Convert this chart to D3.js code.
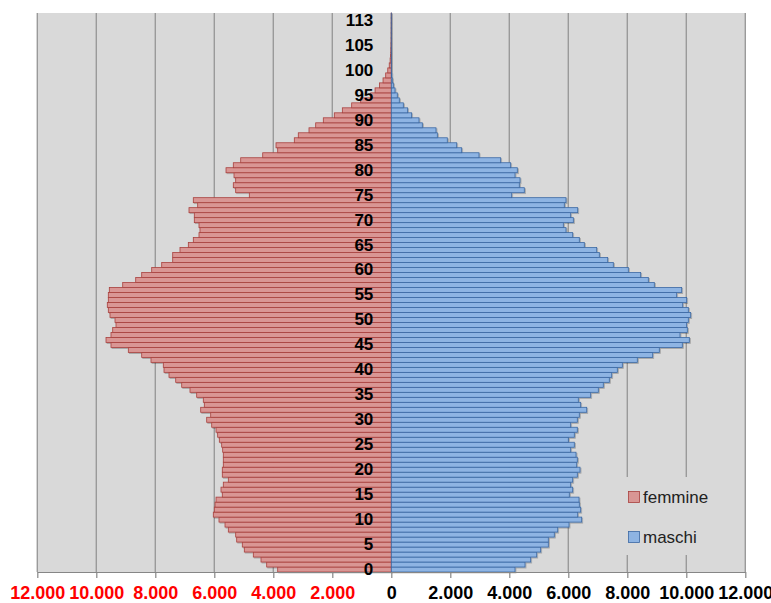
<!DOCTYPE html>
<html>
<head>
<meta charset="utf-8">
<script src="https://cdn.jsdelivr.net/npm/d3@7"></script>
<style>
  body { margin: 0; background: #fff; }
  svg { display: block; }
</style>
</head>
<body>
<div id="chart"></div>
<script>
// Piramide per età - femmine / maschi

const ages = ["0","1","2","3","4","5","6","7","8","9",
  "10","11","12","13","14","15","16","17","18","19",
  "20","21","22","23","24","25","26","27","28","29",
  "30","31","32","33","34","35","36","37","38","39",
  "40","41","42","43","44","45","46","47","48","49",
  "50","51","52","53","54","55","56","57","58","59",
  "60","61","62","63","64","65","66","67","68","69",
  "70","71","72","73","74","75","76","77","78","79",
  "80","81","82","83","84","85","86","87","88","89",
  "90","91","92","93","94","95","96","97","98","99",
  "100","101","102","103","104","105","106","107","108","109","113","115"];

const femmine = [3851,4224,4417,4678,4983,5051,5241,5275,5525,5637,
  5841,6034,6000,5976,5942,5729,5773,5695,5525,5729,
  5729,5695,5695,5695,5716,5750,5830,5886,5942,6088,
  6258,6122,6461,6339,6373,6597,6824,7105,7308,7536,
  7705,7729,8146,8461,8915,9502,9671,9502,9444,9332,
  9366,9536,9593,9627,9593,9593,9559,9105,8664,8461,
  8122,7783,7410,7410,7163,6881,6712,6519,6485,6519,
  6678,6678,6858,6563,6712,4813,5275,5356,5275,5332,
  5603,5356,5105,4359,3851,3908,3288,3153,2790,2563,
  2305,1932,1660,1343,1038,700,550,400,280,190,
  120,70,40,25,15,10,6,4,3,2,1,1];

const maschi = [4193,4532,4725,4929,5064,5322,5322,5525,5641,6024,
  6454,6319,6420,6373,6363,6034,6149,6081,6149,6305,
  6397,6285,6305,6261,6081,6203,6000,6203,6305,6081,
  6305,6373,6624,6420,6339,6759,7017,7186,7390,7471,
  7661,7831,8339,8861,9085,9864,10102,9786,10034,10013,
  10068,10149,10068,9878,10013,9674,9844,8915,8712,8454,
  8034,7525,7336,7051,6963,6542,6373,6149,5922,5831,
  6170,6081,6319,5864,5922,4081,4508,4339,4363,4193,
  4271,4047,3708,2973,2386,2217,1898,1560,1515,1051,
  939,690,554,407,271,203,125,68,34,17,
  10,6,4,3,2,1,1,1,1,1,1,1];

const xTicks = [-12000,-10000,-8000,-6000,-4000,-2000,0,2000,4000,6000,8000,10000,12000];
const legendLabels = ["femmine", "maschi"];

const W = 771, H = 603;
const plot = { left: 37.3, right: 745.3, top: 13, bottom: 572 };

const colors = {
  femmine: { fill: "#d99694", stroke: "#a8403d" },
  maschi:  { fill: "#8eb4e3", stroke: "#3b68a3" }
};

const svg = d3.select("#chart").append("svg")
  .attr("width", W)
  .attr("height", H);

// soft shadow like the spreadsheet bars
const defs = svg.append("defs");
const shadow = defs.append("filter").attr("id", "shadow")
  .attr("x", "-5%").attr("y", "-50%").attr("width", "120%").attr("height", "200%");
shadow.append("feDropShadow")
  .attr("dx", 1).attr("dy", 1).attr("stdDeviation", 0.6)
  .attr("flood-color", "#000").attr("flood-opacity", 0.25);

const x = d3.scaleLinear()
  .domain([-12000, 12000])
  .range([plot.left, plot.right]);

const y = d3.scaleBand()
  .domain(ages)
  .range([plot.bottom, plot.top])
  .padding(0);

// plot background
svg.append("rect")
  .attr("x", plot.left)
  .attr("y", plot.top)
  .attr("width", plot.right - plot.left)
  .attr("height", plot.bottom - plot.top)
  .attr("fill", "#d9d9d9");

// vertical gridlines
svg.append("g")
  .selectAll("line")
  .data(xTicks)
  .join("line")
  .attr("x1", d => x(d))
  .attr("x2", d => x(d))
  .attr("y1", plot.top)
  .attr("y2", plot.bottom)
  .attr("stroke", "#9a9a9a")
  .attr("stroke-width", 1.4);

// legend box hides the gridlines behind it
svg.append("rect")
  .attr("x", 620)
  .attr("y", 477)
  .attr("width", 116)
  .attr("height", 78)
  .attr("fill", "#d9d9d9");

const bars = svg.append("g").attr("filter", "url(#shadow)");

bars.selectAll(".f")
  .data(femmine)
  .join("rect")
  .attr("class", "f")
  .attr("x", d => x(-d))
  .attr("y", (d, i) => y(ages[i]))
  .attr("width", d => x(0) - x(-d))
  .attr("height", y.bandwidth())
  .attr("fill", colors.femmine.fill)
  .attr("stroke", colors.femmine.stroke)
  .attr("stroke-width", 0.8);

bars.selectAll(".m")
  .data(maschi)
  .join("rect")
  .attr("class", "m")
  .attr("x", x(0))
  .attr("y", (d, i) => y(ages[i]))
  .attr("width", d => x(d) - x(0))
  .attr("height", y.bandwidth())
  .attr("fill", colors.maschi.fill)
  .attr("stroke", colors.maschi.stroke)
  .attr("stroke-width", 0.8);

// bottom axis
const it = d3.formatLocale({ decimal: ",", thousands: ".", grouping: [3], currency: ["", "€"] });
const fmt = it.format(",");

const xAxis = svg.append("g")
  .attr("transform", `translate(0,${plot.bottom})`)
  .call(d3.axisBottom(x)
    .tickValues(xTicks)
    .tickSize(6)
    .tickSizeOuter(0)
    .tickPadding(8)
    .tickFormat(d => fmt(Math.abs(d))));

xAxis.select(".domain").attr("stroke", "#868686").attr("stroke-width", 1.2);
xAxis.selectAll(".tick line").attr("stroke", "#868686").attr("stroke-width", 1.2);
xAxis.selectAll(".tick text")
  .style("font-family", "'Liberation Sans Narrow', 'Liberation Sans', Arial, sans-serif")
  .style("font-size", "18px")
  .style("font-weight", "bold")
  .attr("fill", d => d < 0 ? "#ff0000" : "#000");

// age labels every 5 categories, at the centre
const yAxis = svg.append("g")
  .attr("transform", `translate(${x(0)},0)`)
  .call(d3.axisLeft(y)
    .tickValues(ages.filter((a, i) => i % 5 === 0))
    .tickSize(0)
    .tickPadding(18));

yAxis.select(".domain").remove();
yAxis.selectAll(".tick text")
  .style("font-family", "'Liberation Sans', Arial, sans-serif")
  .style("font-size", "17px")
  .style("font-weight", "bold")
  .attr("fill", "#000");

// legend
const legend = svg.append("g");
legendLabels.forEach((name, i) => {
  const gy = 497 + i * 40;
  legend.append("rect")
    .attr("x", 628.5)
    .attr("y", gy - 5.5)
    .attr("width", 11)
    .attr("height", 11)
    .attr("fill", colors[name].fill)
    .attr("stroke", colors[name].stroke)
    .attr("stroke-width", 0.8);
  legend.append("text")
    .attr("x", 643)
    .attr("y", gy)
    .attr("dy", "0.35em")
    .style("font-family", "'Liberation Sans', Arial, sans-serif")
    .style("font-size", "17px")
    .attr("fill", "#222")
    .text(name);
});
</script>
</body>
</html>
